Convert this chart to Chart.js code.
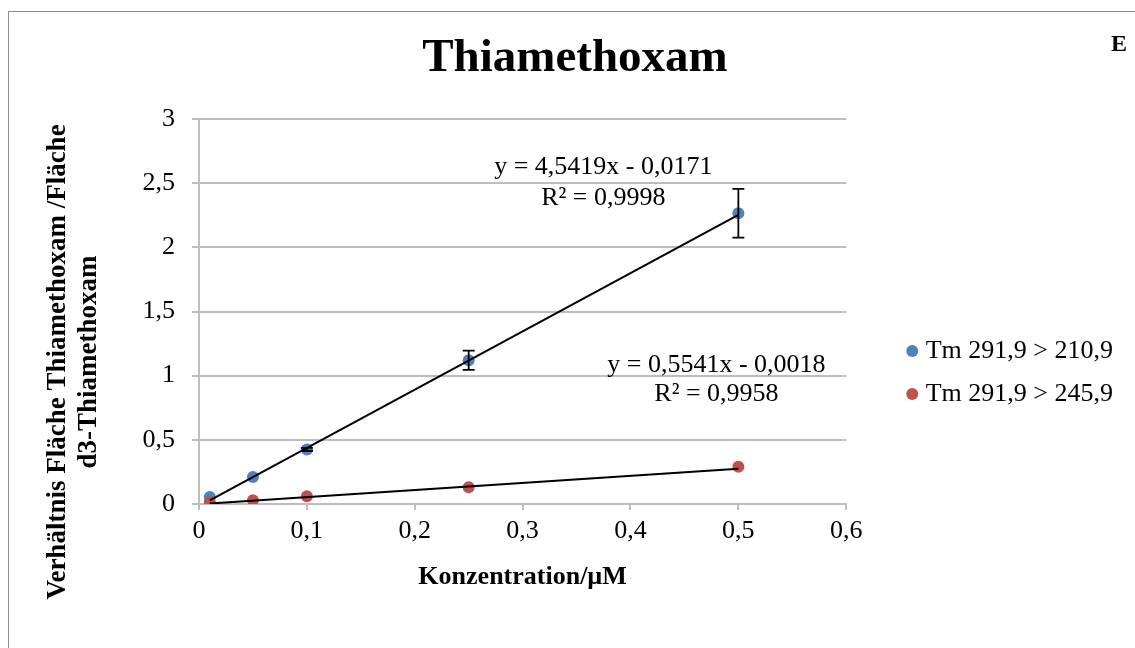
<!DOCTYPE html>
<html>
<head>
<meta charset="utf-8">
<title>Thiamethoxam</title>
<script src="https://cdn.jsdelivr.net/npm/chart.js@4/dist/chart.umd.min.js"></script>
<style>
  html, body { margin: 0; padding: 0; background: #fff; }
  canvas { display: block; }
</style>
</head>
<body>
<canvas id="chart" width="1135" height="648"></canvas>
<script>
// Calibration data: concentration (µM) vs. area ratio analyte / d3 internal standard
const concentrations = [0.01, 0.05, 0.1, 0.25, 0.5];
const seriesNames = ['Tm 291,9 > 210,9', 'Tm 291,9 > 245,9'];
const ratio210 = [0.055, 0.21, 0.425, 1.12, 2.265];
const ratio245 = [0.015, 0.03, 0.06, 0.13, 0.29];
const error210 = [0, 0, 0.012, 0.075, 0.19];

// Linear regression results for each transition
const slopes = [4.5419, 0.5541];
const intercepts = [-0.0171, -0.0018];
const rSquared = [0.9998, 0.9958];

const xTickLabels = ['0', '0,1', '0,2', '0,3', '0,4', '0,5', '0,6'];
const yTickLabels = ['0', '0,5', '1', '1,5', '2', '2,5', '3'];

const SERIF = "'Liberation Serif', 'Times New Roman', serif";
const GRID = '#bdbdbd';
const COLORS = ['#4F81BD', '#C0504D'];

const points = ys => concentrations.map((x, i) => ({ x, y: ys[i] }));
const trend = k => [concentrations[0], concentrations[concentrations.length - 1]]
  .map(x => ({ x, y: slopes[k] * x + intercepts[k] }));
const dec = v => Math.abs(v).toFixed(4).replace('.', ',');
const equation = k => 'y = ' + dec(slopes[k]) + 'x ' + (intercepts[k] < 0 ? '- ' : '+ ') + dec(intercepts[k]);
const rLabel = k => 'R² = ' + dec(rSquared[k]);

// White page with the outer frame and the panel letter
const framePlugin = {
  id: 'frame',
  beforeDraw(chart) {
    const ctx = chart.ctx;
    ctx.save();
    ctx.fillStyle = '#fff';
    ctx.fillRect(0, 0, chart.width, chart.height);
    ctx.strokeStyle = '#8d8d8d';
    ctx.lineWidth = 1;
    ctx.strokeRect(8.5, 11.5, chart.width + 20, chart.height + 20);
    ctx.restore();
  },
  afterDraw(chart) {
    const ctx = chart.ctx;
    ctx.save();
    ctx.fillStyle = '#000';
    ctx.font = 'bold 24px ' + SERIF;
    ctx.textAlign = 'center';
    ctx.textBaseline = 'middle';
    ctx.fillText('E', 1119, 45);
    ctx.restore();
  }
};

// Two-line vertical axis title, centred below the plot centre
const yTitlePlugin = {
  id: 'yTitle',
  afterDraw(chart, args, opts) {
    const ctx = chart.ctx;
    ctx.save();
    ctx.fillStyle = '#000';
    ctx.font = 'bold 27px ' + SERIF;
    ctx.textAlign = 'center';
    ctx.textBaseline = 'middle';
    opts.lines.forEach((line, i) => {
      ctx.save();
      ctx.translate(opts.x + i * opts.gap, opts.y);
      ctx.rotate(-Math.PI / 2);
      ctx.fillText(line, 0, 0);
      ctx.restore();
    });
    ctx.restore();
  }
};

// Error bars for the first transition
const errorBarPlugin = {
  id: 'errorBars',
  afterDatasetsDraw(chart) {
    const { ctx, scales: { x, y } } = chart;
    ctx.save();
    ctx.strokeStyle = '#000';
    ctx.lineWidth = 1.8;
    concentrations.forEach((c, i) => {
      const e = error210[i];
      if (!e) return;
      const px = x.getPixelForValue(c);
      const top = y.getPixelForValue(ratio210[i] + e);
      const bot = y.getPixelForValue(ratio210[i] - e);
      ctx.beginPath();
      ctx.moveTo(px, top); ctx.lineTo(px, bot);
      ctx.moveTo(px - 6, top); ctx.lineTo(px + 6, top);
      ctx.moveTo(px - 6, bot); ctx.lineTo(px + 6, bot);
      ctx.stroke();
    });
    ctx.restore();
  }
};

// Regression equations next to the trend lines
const equationPlugin = {
  id: 'equations',
  afterDatasetsDraw(chart, args, opts) {
    const { ctx, scales: { x, y } } = chart;
    ctx.save();
    ctx.fillStyle = '#000';
    ctx.font = '26px ' + SERIF;
    ctx.textAlign = 'center';
    ctx.textBaseline = 'middle';
    opts.anchors.forEach((a, k) => {
      const px = x.getPixelForValue(a.x);
      const py = y.getPixelForValue(a.y);
      ctx.fillText(equation(k), px, py);
      ctx.fillText(rLabel(k), px, py + a.gap);
    });
    ctx.restore();
  }
};

// Moves the legend block beside the plot
const legendShiftPlugin = {
  id: 'legendShift',
  afterLayout(chart, args, opts) {
    const lg = chart.legend;
    if (!lg) return;
    lg.left += opts.dx; lg.right += opts.dx;
    lg.top += opts.dy; lg.bottom += opts.dy;
  }
};

Chart.defaults.color = '#000';
Chart.defaults.font.family = SERIF;

new Chart(document.getElementById('chart'), {
  type: 'scatter',
  data: {
    datasets: [
      { label: 'trend0', data: trend(0), showLine: true, borderColor: '#000', borderWidth: 2, pointRadius: 0, order: 0 },
      { label: 'trend1', data: trend(1), showLine: true, borderColor: '#000', borderWidth: 2, pointRadius: 0, order: 0 },
      { label: seriesNames[0], data: points(ratio210), backgroundColor: COLORS[0], borderColor: COLORS[0], borderWidth: 0, pointRadius: 6, order: 2 },
      { label: seriesNames[1], data: points(ratio245), backgroundColor: COLORS[1], borderColor: COLORS[1], borderWidth: 0, pointRadius: 6, order: 1 }
    ]
  },
  options: {
    responsive: false,
    animation: false,
    devicePixelRatio: 1,
    layout: { padding: { top: 11, left: 75.5, right: 60.5, bottom: 0 } },
    plugins: {
      tooltip: { enabled: false },
      title: {
        display: true,
        text: 'Thiamethoxam',
        color: '#000',
        font: { family: SERIF, size: 47, weight: 'bold' },
        padding: { top: 20, bottom: 31.6 }
      },
      legend: {
        position: 'right',
        labels: {
          filter: item => item.datasetIndex >= 2,
          sort: (a, b) => a.datasetIndex - b.datasetIndex,
          usePointStyle: true,
          pointStyle: 'circle',
          boxWidth: 1,
          boxHeight: 8.5,
          padding: 17,
          color: '#000',
          font: { family: SERIF, size: 26 }
        }
      },
      legendShift: { dx: 48.5, dy: 43 },
      yTitle: {
        lines: ['Verhältnis Fläche Thiamethoxam /Fläche', 'd3-Thiamethoxam'],
        x: 58, y: 362, gap: 31.5
      },
      equations: {
        anchors: [{ x: 0.3748, y: 2.625, gap: 31 }, { x: 0.4797, y: 1.078, gap: 29 }]
      }
    },
    scales: {
      x: {
        type: 'linear',
        min: 0, max: 0.6,
        afterFit: s => { s.height = 144; },
        ticks: {
          stepSize: 0.1,
          padding: 6,
          color: '#000',
          font: { family: SERIF, size: 26 },
          callback: (v, i) => xTickLabels[i]
        },
        grid: { drawOnChartArea: false, drawTicks: true, tickLength: 6, color: GRID, lineWidth: 2 },
        border: { display: true, color: GRID, width: 2 },
        title: {
          display: true,
          text: 'Konzentration/µM',
          color: '#000',
          font: { family: SERIF, size: 26, weight: 'bold' },
          padding: { top: 0, bottom: 55 }
        }
      },
      y: {
        min: 0, max: 3,
        afterFit: s => { s.width = 123.5; },
        ticks: {
          stepSize: 0.5,
          padding: 17,
          color: '#000',
          font: { family: SERIF, size: 26 },
          callback: (v, i) => yTickLabels[i]
        },
        grid: { color: GRID, lineWidth: 2, tickLength: 7, drawTicks: true },
        border: { display: true, color: GRID, width: 2 }
      }
    }
  },
  plugins: [framePlugin, yTitlePlugin, errorBarPlugin, equationPlugin, legendShiftPlugin]
});
</script>
</body>
</html>
